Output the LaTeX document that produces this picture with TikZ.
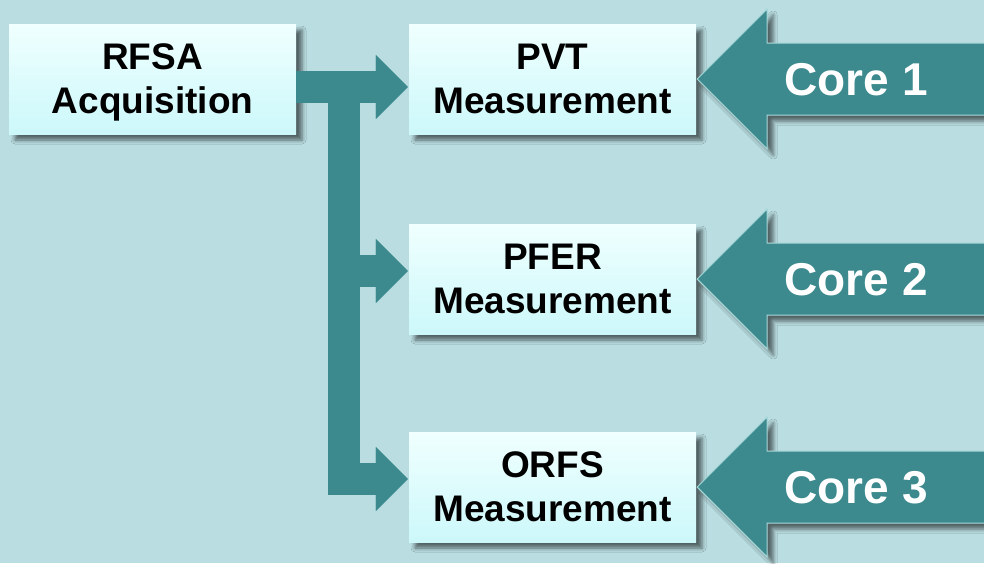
\documentclass[tikz,border=0pt]{standalone}
\usepackage{fontspec}
\setmainfont{Liberation Sans}
\usetikzlibrary{arrows.meta,shadows.blur,calc}

\definecolor{bgteal}{HTML}{B9DDE1}
\definecolor{flowteal}{HTML}{3C8A8E}
\definecolor{boxtop}{HTML}{F0FFFF}
\definecolor{boxbottom}{HTML}{CCF8FA}
\definecolor{rimteal}{HTML}{A8D8DA}

\begin{document}
\begin{tikzpicture}[x=1pt,y=-1pt,
  stage/.style={rectangle, minimum width=287pt, minimum height=110pt,
    inner sep=0pt, top color=boxtop, bottom color=boxbottom, draw=none,
    align=center, text depth=0pt, font=\bfseries\fontsize{37}{44}\selectfont,
    blur shadow={shadow xshift=6pt, shadow yshift=-6pt,
      shadow blur radius=4pt, shadow opacity=55}},
  feed/.style={draw=flowteal, line width=32pt, line join=miter,
    -{Triangle[width=64pt,length=32pt,line width=0.01pt,fill=flowteal]}},
  corearrow/.style={fill=flowteal, draw=rimteal, line width=1pt,
    blur shadow={shadow xshift=6pt, shadow yshift=-6pt,
      shadow blur radius=4pt, shadow opacity=55}},
  corelabel/.style={text=white, inner sep=0pt,
    font=\bfseries\fontsize{46}{46}\selectfont}
]
% canvas
\useasboundingbox (0,0) rectangle (984,563);
\fill[bgteal] (0,0) rectangle (984,563);

% processing stages
\node[stage] (rfsa) at (152.5,79)  {RFSA\\Acquisition};
\node[stage] (pvt)  at (552.5,79)  {PVT\\Measurement};
\node[stage] (pfer) at (552.5,279) {PFER\\Measurement};
\node[stage] (orfs) at (552.5,487) {ORFS\\Measurement};

% distribution of the acquired data
\coordinate (trunk) at (344,0);
\draw[feed] ($(rfsa.east)+(0,8)$) -- ($(pvt.west)+(-1,8)$);
\draw[feed] ($(trunk |- rfsa.east)+(0,8)$) -- ($(trunk |- orfs.west)+(0,-8)$)
  -- ($(orfs.west)+(-1,-8)$);
\draw[feed] ($(trunk |- pfer.west)+(0,-8)$) -- ($(pfer.west)+(-1,-8)$);

% processor cores feeding each measurement
\foreach \stg/\n in {pvt/1, pfer/2, orfs/3}{
  \coordinate (tip\n) at ($(\stg.east)+(1,0)$);
  \path[corearrow] (tip\n) -- ++(70,-70) -- ++(0,34) -- ++(240,0)
    -- ++(0,72) -- ++(-240,0) -- ++(0,34) -- cycle;
  \node[corelabel] (core\n) at ($(tip\n)+(159,1)$) {Core \n};
}
\end{tikzpicture}
\end{document}
